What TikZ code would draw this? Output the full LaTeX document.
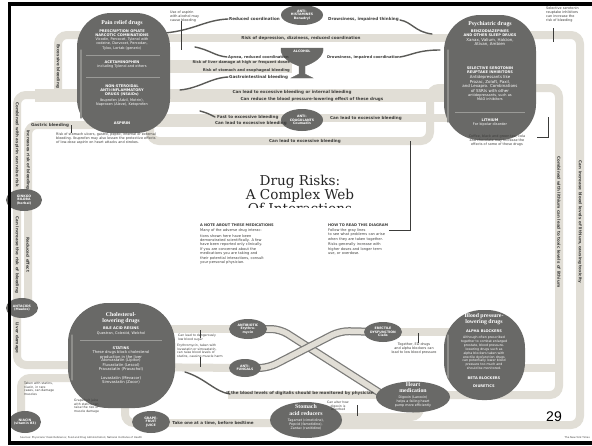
\documentclass[tikz,border=0pt]{standalone}
\usepackage{fontspec}
\setmainfont{DejaVu Sans}
\newfontfamily\ttlfont{DejaVu Serif}
\newfontfamily\hdfont{Liberation Serif}
\newfontfamily\pgfont{Liberation Sans}
\usetikzlibrary{shapes.geometric}
\definecolor{bandc}{HTML}{E1DED6}
\definecolor{ovalc}{HTML}{696967}
\definecolor{bevc}{HTML}{8E8E8B}
\definecolor{dlc}{HTML}{5A5A57}
\definecolor{txc}{HTML}{3C3C3A}
\definecolor{sepc}{HTML}{9A9A97}
\tikzset{
 band/.style={draw=bandc, line width=8pt, rounded corners=9pt},
 wband/.style={draw=bandc, line width=13pt, rounded corners=9pt},
 xedge/.style={draw=dlc!80, line width=8pt, rounded corners=9pt},
 xin/.style={draw=bandc, line width=5.5pt, rounded corners=9pt},
 dline/.style={draw=dlc, line width=1.4pt, line cap=round},
 thinl/.style={draw=txc, line width=0.5pt},
 capsule/.style={rectangle, fill=ovalc, inner sep=0pt},
 sov/.style={ellipse, fill=ovalc, inner sep=0pt, text=white, align=center, font=\fontsize{3.2}{3.6}\selectfont\bfseries},
 wt/.style={text=white, align=center, inner sep=0pt, font=\fontsize{3.5}{4.1}\selectfont},
 wtb/.style={text=white, align=center, inner sep=0pt, font=\fontsize{3.6}{4.1}\selectfont\bfseries},
 wth/.style={text=white, align=center, inner sep=0pt, font=\hdfont\fontsize{5.8}{6.2}\selectfont\bfseries},
 bt/.style={text=txc, inner sep=0pt, font=\fontsize{4.1}{4.4}\selectfont\bfseries},
 bts/.style={text=txc, inner sep=0pt, font=\fontsize{3.7}{4.2}\selectfont\bfseries},
 nt/.style={text=txc, inner sep=0pt, align=left, font=\fontsize{3.4}{4}\selectfont},
 ntc/.style={text=txc, inner sep=0pt, align=center, font=\fontsize{3.4}{4}\selectfont},
 sepl/.style={draw=sepc, line width=0.5pt},
 bevel/.style={draw=bevc, line width=1.2pt, line cap=round},
}
\begin{document}
\begin{tikzpicture}[x=1pt,y=-1pt]
\useasboundingbox (0,0) rectangle (592,445);
\fill[white] (0,0) rectangle (592,445);

% ---------------- bands ----------------
\draw[band] (123,38) -- (490,38);
\draw[band] (123,35) -- (58,35) -- (58,97);
\draw[wband] (490,95) -- (35,95);
\draw[band] (45,95) -- (17,95) -- (17,365) -- (120,365);
\draw[band] (123,125) -- (28,125) -- (28,305);
\draw[wband] (123,66) -- (292,66);
\draw[wband] (123,120) -- (300,120);
\draw[band] (300,118) -- (490,118);
\draw[band] (150,110) -- (150,141) -- (430,141) -- (430,88) -- (490,88);
\draw[band] (490,35) -- (580,35) -- (580,425) -- (306,425);
\draw[band] (490,88) -- (559,88) -- (559,395) -- (413,395);
\draw[band] (484,368) -- (559,368);
\draw[band] (383,332) -- (484,332);
\draw[band] (306,417) -- (420,417) -- (420,405);
\draw[band] (228,395) -- (413,395);
\draw[band] (121,329) -- (248,329);
\draw[band] (121,367) -- (245,368);
\draw[band] (121,378) -- (21,378) -- (21,422);
\draw[band] (125,355) -- (125,423) -- (306,423);
\draw[xedge] (248,329) -- (280,329) -- (380,393);
\draw[xin] (248,329) -- (280,329) -- (380,393);
\draw[xedge] (245,368) -- (268,368) -- (340,331) -- (383,332);
\draw[xin] (245,368) -- (268,368) -- (340,331) -- (383,332);

% ---------------- dark connector strokes ----------------
\draw[dline] (165,33) .. controls (195,30) and (205,20) .. (228,19);
\draw[dline] (195,47) .. controls (210,50) and (215,56) .. (227,57);
\draw[dline] (180,90) .. controls (200,88) and (210,78) .. (228,77);
\draw[dline] (200,111) .. controls (207,113) .. (215,117);
\draw[dline] (400,20) .. controls (412,22) and (415,32) .. (432,34);
\draw[dline] (400,57) .. controls (412,55) and (418,50) .. (440,50);
\draw[dline] (185,372) .. controls (205,378) and (215,392) .. (230,394);

% ---------------- thin pointer lines ----------------
\draw[thinl] (181,21) -- (181,50);
\draw[thinl] (71,125) -- (71,133);
\draw[thinl] (553,28) -- (553,42);
\draw[thinl] (537,137) -- (548,137) -- (548,117);
\draw[thinl] (410,141) -- (410,230) -- (389,230);
\draw[thinl] (418,333) -- (418,343);
\draw[thinl] (200,330) -- (200,338);
\draw[thinl] (200,357) -- (200,367);
\draw[thinl] (357,405) -- (357,416);

% ---------------- big capsules ----------------
\node[capsule, minimum width=93pt, minimum height=120pt, rounded corners=34pt] (pain) at (123.5,73) {};
\draw[bevel] (81,50) -- (81,118);
\node[capsule, minimum width=92pt, minimum height=125pt, rounded corners=36pt] (psych) at (490,77.5) {};
\draw[bevel] (448,50) -- (448,122);
\node[capsule, minimum width=107pt, minimum height=105pt, rounded corners=40pt] (chol) at (121.5,355.5) {};
\draw[bevel] (72,335) -- (72,380);
\node[capsule, minimum width=81pt, minimum height=90pt, rounded corners=38pt] (bp) at (484.5,355) {};
\draw[bevel] (448,335) -- (448,378);

% pain capsule text
\node[wth] (p1) at (122,23) {Pain relief drugs};
\node[wtb] (p2) at (122,33) {PRESCRIPTION OPIATE\\NARCOTIC COMBINATIONS};
\node[wt] (p3) at (122,44) {Vicodin, Percocet, Tylenol with\\codeine, Darvocet, Percodan,\\Tylox, Lortab (generic)};
\draw[sepl] (86,55) -- (160,55);
\node[wtb] (p4) at (122,62) {ACETAMINOPHEN};
\node[wt] (p5) at (122,66.5) {including Tylenol and others};
\draw[sepl] (86,77) -- (160,77);
\node[wtb] (p6) at (122,90) {NON-STEROIDAL\\ANTI-INFLAMMATORY\\DRUGS (NSAIDs)};
\node[wt] (p7) at (122,102.5) {Ibuprofen (Advil, Motrin),\\Naproxen (Aleve), Ketoprofen};
\node[wtb] (p8) at (122,123) {ASPIRIN};

% psych capsule text
\node[wth] (s1) at (490,24) {Psychiatric drugs};
\node[wtb] (s2) at (490,33.5) {BENZODIAZEPINES\\AND OTHER SLEEP DRUGS};
\node[wt, font=\fontsize{4}{4.5}\selectfont] (s3) at (490,42) {Xanax, Valium, Halcion,\\Ativan, Ambien};
\node[wtb] (s4) at (490,70) {SELECTIVE SEROTONIN\\REUPTAKE INHIBITORS};
\node[wt, font=\fontsize{4}{4.5}\selectfont] (s5) at (490,84) {Antidepressants like\\Prozac, Zoloft, Paxil,\\and Lexapro. Combinations\\of SSRIs with other};
\node[wt] (s6) at (490,97.5) {antidepressants, such as\\MAO inhibitors};
\draw[sepl] (455,112) -- (525,112);
\node[wtb] (s7) at (490,120) {LITHIUM};
\node[wt] (s8) at (490,124.5) {For bipolar disorder};

% cholesterol capsule text
\node[wth] (c1) at (121,318) {Cholesterol-\\lowering drugs};
\node[wtb] (c2) at (121,328) {BILE ACID RESINS};
\node[wt] (c3) at (121,333.5) {Questran, Colestid, Welchol};
\draw[sepl] (80,340) -- (162,340);
\node[wtb] (c4) at (121,348) {STATINS};
\node[wt, font=\fontsize{3.8}{4.2}\selectfont] (c5) at (121,355) {These drugs block cholesterol\\production in the liver};
\node[wt, font=\fontsize{3.8}{4.2}\selectfont] (c6) at (121,365) {Atorvastatin (Lipitor)\\Fluvastatin (Lescol)\\Pravastatin (Pravachol)};
\node[wt, font=\fontsize{3.8}{4.2}\selectfont] (c7) at (121,380) {Lovastatin (Mevacor)\\Simvastatin (Zocor)};

% blood pressure capsule text
\node[wth] (b1) at (484,319) {Blood pressure-\\lowering drugs};
\node[wtb] (b2) at (484,331) {ALPHA BLOCKERS};
\node[wt, font=\fontsize{3.2}{3.9}\selectfont] (b3) at (484,353) {Although often prescribed\\together to combat enlarged\\prostate, blood pressure-\\lowering drugs such as\\alpha blockers taken with\\erectile dysfunction drugs\\can potentially lower blood\\pressure too much and\\should be monitored.};
\node[wtb] (b4) at (484,378) {BETA BLOCKERS};
\node[wtb] (b5) at (484,386) {DIURETICS};

% ---------------- small ovals ----------------
\node[sov, minimum width=42pt, minimum height=20pt] (anth) at (302,15) {ANTI-\\HISTAMINES\\Benadryl};
\filldraw[ovalc] (281,48) -- (323,48) -- (323,51) .. controls (321,60) and (310,64) .. (305,66) -- (305,74) -- (313,78) -- (291,78) -- (299,74) -- (299,66) .. controls (294,64) and (283,60) .. (281,51) -- cycle;
\node[sov] (alc) at (302,51.5) {ALCOHOL};
\node[sov, minimum width=42pt, minimum height=22pt] (anti) at (302,120) {ANTI-\\COAGULANTS\\Coumadin};
\node[sov, minimum width=36pt, minimum height=22pt] (gink) at (24,200) {GINKGO\\BILOBA\\(herbal)};
\node[sov, minimum width=32pt, minimum height=20pt] (antac) at (22,308) {ANTACIDS\\(Maalox)};
\node[sov, minimum width=32pt, minimum height=22pt] (niac) at (25,422) {NIACIN\\(vitamin B3)};
\node[sov, minimum width=38pt, minimum height=22pt] (grape) at (151,422) {GRAPE-\\FRUIT\\JUICE};
\node[sov, minimum width=38pt, minimum height=20pt] (abio) at (248,329) {ANTIBIOTIC\\Erythro-\\mycin};
\node[sov, minimum width=32pt, minimum height=18pt] (afun) at (245,368) {ANTI-\\FUNGALS};
\node[sov, minimum width=38pt, minimum height=20pt] (ed) at (383,332) {ERECTILE\\DYSFUNCTION\\Cialis};
\node[sov, minimum width=74pt, minimum height=31pt] (heart) at (413,397) {};
\node[wth] (h1) at (413,388) {Heart\\medication};
\node[wt, font=\fontsize{3.3}{3.8}\selectfont] (h2) at (413,401.5) {Digoxin (Lanoxin)\\helps a failing heart\\pump more efficiently};
\node[sov, minimum width=72pt, minimum height=36pt] (stom) at (306,420) {};
\node[wth] (m1) at (306,410) {Stomach\\acid reducers};
\node[wt, font=\fontsize{3.3}{3.9}\selectfont] (m2) at (306,424.5) {Tagamet (cimetidine),\\Pepcid (famotidine),\\Zantac (ranitidine)};

% ---------------- band labels ----------------
\node[bt] (l1) at (301,38) {Risk of depression, dizziness, reduced coordination};
\node[bt, anchor=west] (l2) at (229,19) {Reduced coordination};
\node[bt, anchor=east] (l3) at (399,19) {Drowsiness, impaired thinking};
\node[bts, anchor=west] (l4) at (228,57) {Apnea, reduced coordination};
\node[bts, anchor=east] (l5) at (400,57) {Drowsiness, impaired coordination};
\node[bts, anchor=east] (l6) at (290,62.5) {Risk of liver damage at high or frequent doses};
\node[bts, anchor=east] (l7) at (290,70) {Risk of stomach and esophageal bleeding};
\node[bt, anchor=west] (l8) at (229,77) {Gastrointestinal bleeding};
\node[bt] (l9) at (292,92) {Can lead to excessive bleeding or internal bleeding};
\node[bt] (l10) at (312,99) {Can reduce the blood pressure-lowering effect of these drugs};
\node[bt, anchor=west] (l11) at (217,117) {Fast to excessive bleeding};
\node[bt, anchor=west] (l12) at (215,123.5) {Can lead to excessive bleeding};
\node[bt, anchor=west] (l13) at (330,118) {Can lead to excessive bleeding};
\node[bt] (l14) at (305,141) {Can lead to excessive bleeding};
\node[bt] (l15) at (50,125) {Gastric bleeding};
\node[bt, rotate=-90] (l16) at (58,66) {Excessive bleeding};
\node[bt, rotate=-90] (l17) at (17,145) {Combined with aspirin can raise risk};
\node[bt, rotate=-90] (l18) at (28,160) {Increases risk of bleeding};
\node[bt, rotate=-90] (l19) at (17,255) {Can increase the risk of bleeding};
\node[bt, rotate=-90] (l20) at (28,255) {Reduced effect};
\node[bt, rotate=-90] (l21) at (17,338) {Liver damage};
\node[bt, rotate=-90] (l22) at (559,222) {Combined with lithium can lead to toxic levels of lithium};
\node[bt, rotate=-90] (l23) at (580,222) {Can increase blood levels of lithium, causing toxicity};
\node[bt] (l24) at (300,393.5) {If the blood levels of digitalis should be monitored by physician};
\node[bt] (l25) at (213,423) {Take one at a time, before bedtime};

% ---------------- annotations ----------------
\node[nt, anchor=north west] (a1) at (170,11) {Use of aspirin\\with alcohol may\\cause bleeding};
\node[nt, anchor=north west] (a2) at (56,133) {Risk of stomach ulcers, gastric, peptic, internal or external\\bleeding. Ibuprofen may also lessen the protective effects\\of low-dose aspirin on heart attacks and strokes.};
\node[nt, anchor=north west] (a3) at (546,7) {Selective serotonin\\reuptake inhibitors\\can increase the\\risk of bleeding};
\node[ntc, anchor=north] (a4) at (497,135) {Coffee, black and green tea, cola\\and chocolate may increase the\\effects of some of these drugs};
\node[ntc, anchor=north] (a5) at (414,343) {Together, ED drugs\\and alpha blockers can\\lead to low blood pressure};
\node[nt, anchor=north west, font=\fontsize{3.1}{3.7}\selectfont] (a6) at (178,334) {Can lead to dangerously\\low blood sugar};
\node[nt, anchor=north west, font=\fontsize{3.1}{3.7}\selectfont] (a7) at (177,344) {Erythromycin, taken with\\lovastatin or simvastatin,\\can raise blood levels of\\statins, causing muscle harm};
\node[nt, anchor=north west, font=\fontsize{3.1}{3.7}\selectfont] (a8) at (24,382) {Taken with statins,\\niacin, in rare\\cases, can damage\\muscles};
\node[nt, anchor=north west, font=\fontsize{3.1}{3.7}\selectfont] (a9) at (74,399) {Grapefruit juice\\with statins can\\raise the risk of\\muscle damage};
\node[ntc, anchor=north, font=\fontsize{3.1}{3.7}\selectfont] (a10) at (338,401) {Can alter how\\digoxin is\\absorbed};

% ---------------- title and notes ----------------
\begin{scope}
\clip (150,150) rectangle (450,207.5);
\node[text=black!85, align=center, inner sep=0pt, font=\ttlfont\fontsize{13.6}{14.2}\selectfont, anchor=north] (title) at (300,174.5) {Drug Risks:\\A Complex Web\\Of Interactions};
\end{scope}
\node[nt, anchor=north west, text width=92pt, font=\fontsize{3.6}{4.4}\selectfont] (n1) at (200,224) {\textbf{A NOTE ABOUT THESE MEDICATIONS}\\Many of the adverse drug interac-\\[1.5pt]tions shown here have been\\demonstrated scientifically. A few\\have been reported only clinically.\\If you are concerned about the\\medications you are taking and\\their potential interactions, consult\\your personal physician.};
\node[nt, anchor=north west, text width=84pt, font=\fontsize{3.6}{4.4}\selectfont] (n2) at (328,224) {\textbf{HOW TO READ THIS DIAGRAM}\\Follow the gray lines\\to see what problems can arise\\when they are taken together.\\[1.5pt]Risks generally increase with\\higher doses and longer term\\use, or overdose.};

% ---------------- page number, footer, frame ----------------
\node[inner sep=0pt, font=\pgfont\fontsize{14}{14}\selectfont] (pg) at (554,417) {29};
\node[nt, anchor=west, font=\fontsize{2.5}{3}\selectfont] (f1) at (20,437.5) {Sources: Physicians' Desk Reference; Food and Drug Administration; National Institutes of Health};
\node[nt, anchor=east, font=\fontsize{2.5}{3}\selectfont] (f2) at (590,437.5) {The New York Times};
\fill[black] (8,2) rectangle (592,6);
\fill[black] (8,2) rectangle (11,445);
\fill[black] (8,441) rectangle (592,445);
\end{tikzpicture}
\end{document}
